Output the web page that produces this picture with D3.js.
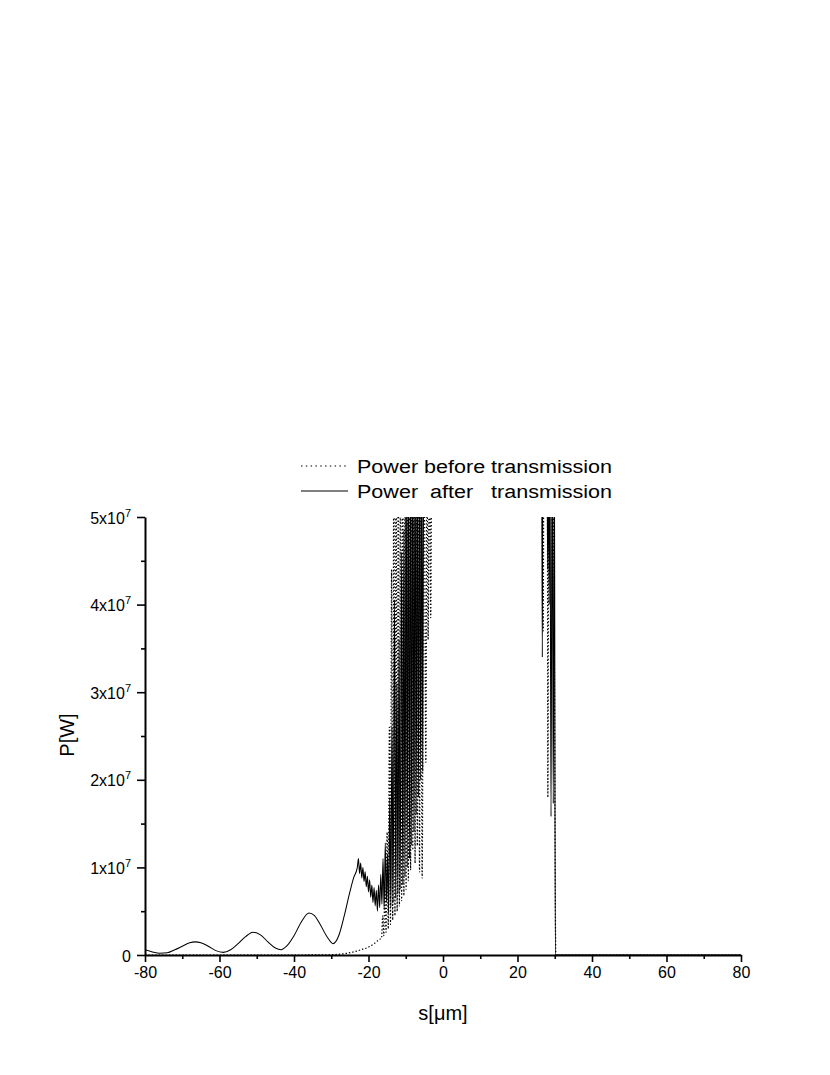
<!DOCTYPE html>
<html>
<head>
<meta charset="utf-8">
<script src="https://cdn.jsdelivr.net/npm/d3@7"></script>
<style>
  html, body { margin: 0; padding: 0; background: #fff; }
  svg { display: block; }
  text { font-family: "Liberation Sans", Arial, sans-serif; fill: #000; }
</style>
</head>
<body>
<svg id="chart" width="830" height="1075"></svg>
<script>
// ---- Data (P in units of 1e7 W, s in micrometres) ----
const xTicks = [-80, -60, -40, -20, 0, 20, 40, 60, 80];
const xMinorTicks = [-70, -50, -30, -10, 10, 30, 50, 70];
const yTicks = [0, 1, 2, 3, 4, 5];
const yMinorTicks = [0.5, 1.5, 2.5, 3.5, 4.5];
const legendLabels = ["Power before transmission", "Power  after   transmission"];

// Power after transmission (solid)
const afterS = [-80,-78,-76,-74,-72,-70,-68,-66.5,-65,-63,-61,-59,-57,-55,-53,-51,-49,-47,-45,-43.5,-42,-40,-38,-36,-34.5,-33,-31,-29.5,-28,-26.5,-25,-24,-23,
  -22.7,-22.4,-22.1,-21.8,-21.5,-21.2,-20.9,-20.6,-20.3,-20.0,-19.7,-19.4,-19.1,-18.8,-18.5,-18.2,-17.9,-17.6,-17.3,-17.0,-16.7,-16.4,-16.1,-15.8,-15.5,-15.2,-14.9,-14.6,
  -14.3,-14.0,-13.7,-13.4,-13.0,-12.7,-12.4,-12.1,-11.8,-11.5,-11.1,-10.8,-10.5,-10.2,-9.9,-9.6,-9.3,-9.0,-8.7,-8.4,-8.1,-7.8,-7.5,-7.2,-6.9,-6.6,-6.3,-6.0,-5.7,-5.45,-5.2,
  -4,0,10,20,25.5,26.5,26.66,26.8,27.9,28.1,28.3,28.5,28.7,29.0,29.3,29.6,29.9,30.15,40,80];
const afterP = [0.06,0.035,0.02,0.025,0.06,0.10,0.14,0.15,0.14,0.10,0.05,0.03,0.06,0.13,0.21,0.26,0.23,0.15,0.08,0.06,0.10,0.22,0.38,0.48,0.45,0.35,0.20,0.13,0.22,0.45,0.72,0.88,1.0,
  1.1,0.93,1.05,0.88,1.0,0.84,0.95,0.78,0.9,0.72,0.86,0.66,0.8,0.6,0.77,0.56,0.74,0.5,0.8,0.54,0.92,0.58,1.1,0.52,1.28,0.6,1.15,0.48,
  1.8,0.55,2.6,0.6,4.05,0.65,3.1,0.7,3.6,0.75,4.6,0.8,4.85,0.9,6,1.0,6,1.1,6,1.25,6,1.4,6,1.6,6,1.8,6,2.0,6,2.1,6,
  8,10,12,10,8,6,3.4,6,6,4.4,6,4.0,6,1.58,6,1.73,6,0,0,0];

// Power before transmission (dotted)
const beforeS = [-80,-40,-30,-28,-26,-24,-22,-20,-18.5,-17,
  -16.5,-16.2,-15.9,-15.6,-15.3,-15.0,-14.7,-14.4,-14.1,-13.8,-13.5,-13.2,-12.9,-12.6,-12.3,-12.0,-11.7,-11.4,-11.1,-10.8,-10.5,-10.2,-9.9,-9.6,-9.3,-9.0,-8.7,-8.4,-8.1,-7.8,-7.5,-7.2,-6.9,-6.6,-6.3,-6.0,-5.6,-5.1,-4.6,-4.3,-4.0,-3.65,-3.3,-3.0,
  0,10,20,25.5,26.5,26.9,27.1,28.0,28.15,28.4,29.2,29.4,29.6,30.3,40,80];
const beforeP = [0,0,0.003,0.008,0.018,0.035,0.06,0.09,0.13,0.18,
  0.19,0.45,0.22,0.8,0.26,1.4,0.3,2.6,0.35,4.4,0.4,6,0.45,6,0.5,6,0.56,6,0.62,6,0.68,6,0.75,6,0.85,6,0.97,6,1.2,6,1.05,6,1.25,6,0.95,6,0.88,6,2.2,6,3.6,6,3.85,6,
  9,11,10,8,6,3.7,6,6,1.8,6,6,4.0,6,0,0,0];

// ---- Chart ----
const svg = d3.select("#chart");
const pLeft = 145, pRight = 741, pTop = 517, pBottom = 955;
const x = d3.scaleLinear().domain([-80, 80]).range([pLeft, pRight]);
const y = d3.scaleLinear().domain([0, 5]).range([pBottom, pTop]);

svg.append("defs").append("clipPath").attr("id", "plotclip")
  .append("rect").attr("x", pLeft).attr("y", pTop).attr("width", pRight - pLeft).attr("height", pBottom - pTop);

const line = d3.line().x(d => x(d[0])).y(d => y(d[1])).curve(d3.curveMonotoneX);
const afterData = afterS.map((s, i) => [s, afterP[i]]);
const beforeData = beforeS.map((s, i) => [s, beforeP[i]]);

const plot = svg.append("g").attr("clip-path", "url(#plotclip)");
plot.append("path").datum(beforeData).attr("d", line)
  .attr("fill", "none").attr("stroke", "#000").attr("stroke-width", 1.2)
  .attr("stroke-dasharray", "1.4,2");
plot.append("path").datum(afterData).attr("d", line)
  .attr("fill", "none").attr("stroke", "#000").attr("stroke-width", 1.05);

// X axis
const xAxis = svg.append("g").attr("transform", `translate(0,${pBottom})`)
  .call(d3.axisBottom(x).tickValues(xTicks).tickSize(7).tickSizeOuter(0).tickPadding(4).tickFormat(d => d));
svg.append("g").attr("transform", `translate(0,${pBottom})`)
  .call(d3.axisBottom(x).tickValues(xMinorTicks).tickSize(4).tickSizeOuter(0).tickFormat(""))
  .select(".domain").remove();

// Y axis
const yAxis = svg.append("g").attr("transform", `translate(${pLeft},0)`)
  .call(d3.axisLeft(y).tickValues(yTicks).tickSize(8).tickSizeOuter(0).tickPadding(5).tickFormat(""));
svg.append("g").attr("transform", `translate(${pLeft},0)`)
  .call(d3.axisLeft(y).tickValues(yMinorTicks).tickSize(4).tickSizeOuter(0).tickFormat(""))
  .select(".domain").remove();

svg.selectAll(".domain").attr("stroke-width", 2);
svg.selectAll(".tick line").attr("stroke-width", 1.6);

xAxis.selectAll(".tick text").attr("font-size", 16).attr("font-family", "Liberation Sans, Arial, sans-serif")
  .attr("dy", "0.75em").attr("y", 11);

yAxis.selectAll(".tick").each(function(d) {
  const t = d3.select(this).append("text")
    .attr("x", -14).attr("y", 6).attr("text-anchor", "end")
    .attr("font-size", 16).attr("fill", "#000")
    .attr("font-family", "Liberation Sans, Arial, sans-serif");
  if (d === 0) {
    t.text("0");
  } else {
    t.append("tspan").text(d + "x10");
    t.append("tspan").attr("font-size", 11).attr("dy", -7).text("7");
  }
});

// Axis titles
svg.append("text").attr("x", x(0)).attr("y", 1020).attr("text-anchor", "middle")
  .attr("font-size", 20).text("s[\u03bcm]");
svg.append("text").attr("transform", "translate(74,735) rotate(-90)").attr("text-anchor", "middle")
  .attr("font-size", 20).text("P[W]");

// Legend
const legend = svg.append("g");
legend.append("line").attr("x1", 301).attr("x2", 348).attr("y1", 466).attr("y2", 466)
  .attr("stroke", "#000").attr("stroke-width", 1.2).attr("stroke-dasharray", "1.5,3.3");
legend.append("line").attr("x1", 301).attr("x2", 348).attr("y1", 491).attr("y2", 491)
  .attr("stroke", "#000").attr("stroke-width", 1);
legend.append("text").attr("x", 357).attr("y", 473).attr("font-size", 18)
  .attr("textLength", 255).attr("lengthAdjust", "spacingAndGlyphs")
  .style("white-space", "pre").text(legendLabels[0]);
legend.append("text").attr("x", 357).attr("y", 498).attr("font-size", 18)
  .attr("textLength", 255).attr("lengthAdjust", "spacingAndGlyphs")
  .style("white-space", "pre").text(legendLabels[1]);
</script>
</body>
</html>
